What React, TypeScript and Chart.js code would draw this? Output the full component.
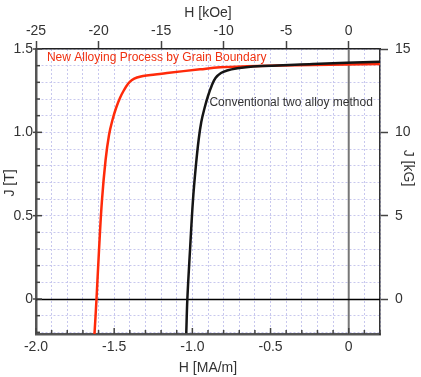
import React, { useEffect, useRef } from 'react';
import { Chart, registerables } from 'chart.js';

Chart.register(...registerables);

// ---- data (H in MA/m, J in T) ----
const newProcessH = [-1.626, -1.613, -1.597, -1.578, -1.555, -1.533, -1.511, -1.488, -1.463, -1.437, -1.412, -1.386, -1.354, -1.315, -1.238, -1.162, -0.951, -0.822, -0.65, -0.229, 0.2];
const newProcessJ = [-0.21, 0, 0.294, 0.594, 0.834, 0.984, 1.074, 1.146, 1.206, 1.254, 1.29, 1.314, 1.329, 1.338, 1.347, 1.356, 1.378, 1.39, 1.396, 1.404, 1.41];
const conventionalH = [-1.039, -1.032, -1.015, -0.996, -0.977, -0.96, -0.943, -0.922, -0.9, -0.877, -0.852, -0.817, -0.778, -0.72, -0.612, -0.229, 0.2];
const conventionalJ = [-0.206, 0, 0.294, 0.594, 0.804, 0.954, 1.062, 1.146, 1.218, 1.278, 1.326, 1.356, 1.371, 1.383, 1.395, 1.41, 1.424];

const seriesNames = ['New Alloying Process by Grain Boundary', 'Conventional two alloy method'];
const xTitle = 'H [MA/m]';
const x2Title = 'H [kOe]';
const yTitle = 'J [T]';
const y2Title = 'J [kG]';

const FONT = '"Liberation Sans", Arial, Helvetica, sans-serif';
const GRID = '#c8c8ee';
const TXT = '#333';

const isMultiple = (v: number, m: number) => Math.abs(v / m - Math.round(v / m)) < 1e-6;
const fmtHalf = (v: number) => (Math.abs(v) < 1e-9 ? '0' : v.toFixed(1));

const overlay = {
  id: 'overlay',
  beforeDatasetsDraw(chart: any) {
    const { ctx, chartArea: a, scales } = chart;
    const x0 = scales.x.getPixelForValue(0);
    const y0 = Math.round(scales.y.getPixelForValue(0)) + 0.5;
    ctx.save();
    ctx.strokeStyle = '#777';
    ctx.lineWidth = 2;
    ctx.beginPath();
    ctx.moveTo(x0, a.top);
    ctx.lineTo(x0, a.bottom);
    ctx.stroke();
    ctx.strokeStyle = '#000';
    ctx.lineWidth = 1.3;
    ctx.beginPath();
    ctx.moveTo(a.left, y0);
    ctx.lineTo(a.right, y0);
    ctx.stroke();
    ctx.restore();
  },
  afterDraw(chart: any) {
    const { ctx, chartArea: a, scales } = chart;
    ctx.save();
    ctx.strokeStyle = '#444';
    ctx.lineWidth = 1.5;
    // left inner ticks
    scales.y.ticks.forEach((t: any) => {
      const py = scales.y.getPixelForValue(t.value);
      const major = isMultiple(t.value, 0.5);
      ctx.beginPath();
      ctx.moveTo(major ? a.left - 3 : a.left, py);
      ctx.lineTo(a.left + (major ? 6 : 4), py);
      ctx.stroke();
    });
    // bottom inner ticks
    scales.x.ticks.forEach((t: any) => {
      const px = scales.x.getPixelForValue(t.value);
      const major = isMultiple(t.value, 0.5);
      ctx.beginPath();
      ctx.moveTo(px, a.bottom);
      ctx.lineTo(px, a.bottom - (major ? 6 : 4));
      ctx.stroke();
    });
    // annotations
    ctx.font = `12px ${FONT}`;
    ctx.textBaseline = 'middle';
    ctx.textAlign = 'left';
    ctx.fillStyle = '#f03010';
    ctx.fillText(seriesNames[0], scales.x.getPixelForValue(-1.93), scales.y.getPixelForValue(1.446));
    ctx.fillStyle = '#333';
    ctx.fillText(seriesNames[1], scales.x.getPixelForValue(-0.891), scales.y.getPixelForValue(1.175));
    // vertical axis titles
    ctx.font = `14px ${FONT}`;
    ctx.fillStyle = TXT;
    ctx.textAlign = 'center';
    ctx.save();
    ctx.translate(10, 183);
    ctx.rotate(-Math.PI / 2);
    ctx.fillText(yTitle, 0, 0);
    ctx.restore();
    ctx.save();
    ctx.translate(408, 168);
    ctx.rotate(Math.PI / 2);
    ctx.fillText(y2Title, 0, 0);
    ctx.restore();
    ctx.restore();
  },
};

export default function App() {
  const ref = useRef<HTMLCanvasElement | null>(null);
  useEffect(() => {
    if (!ref.current) return;
    const font = { family: FONT, size: 14 };
    const chart = new Chart(ref.current, {
      type: 'line',
      data: {
        datasets: [
          {
            label: seriesNames[1],
            data: conventionalH.map((h, i) => ({ x: h, y: conventionalJ[i] })),
            borderColor: '#151515',
            borderWidth: 2.5,
            pointRadius: 0,
            tension: 0.4,
            fill: false,
          },
          {
            label: seriesNames[0],
            data: newProcessH.map((h, i) => ({ x: h, y: newProcessJ[i] })),
            borderColor: '#ff2a0a',
            borderWidth: 2.5,
            pointRadius: 0,
            tension: 0.4,
            fill: false,
          },
        ],
      },
      options: {
        animation: false,
        responsive: false,
        maintainAspectRatio: false,
        layout: { padding: 0 },
        plugins: { legend: { display: false }, tooltip: { enabled: false } },
        scales: {
          x: {
            type: 'linear',
            position: 'bottom',
            min: -2.0,
            max: 0.2,
            afterFit: (s: any) => { s.height = 43; },
            ticks: {
              stepSize: 0.1,
              maxTicksLimit: 100,
              autoSkip: false,
              maxRotation: 0,
              includeBounds: false,
              padding: 5,
              color: TXT,
              font,
              callback: (v: any) => (isMultiple(Number(v), 0.5) ? fmtHalf(Number(v)) : ''),
            },
            grid: { color: GRID, lineWidth: 1, drawTicks: false },
            border: { display: true, color: '#555', width: 2.5, dash: [2, 2] },
            title: { display: true, text: xTitle, color: TXT, font, padding: { top: 0, bottom: 0 } },
          },
          x2: {
            type: 'linear',
            position: 'top',
            min: -25,
            max: 2.5,
            afterFit: (s: any) => { s.height = 49; },
            ticks: {
              stepSize: 5,
              includeBounds: false,
              autoSkip: false,
              maxRotation: 0,
              padding: 1,
              color: TXT,
              font,
              callback: (v: any) => String(v),
            },
            grid: { drawOnChartArea: false, drawTicks: true, tickLength: 8, tickColor: '#444', tickWidth: 1.5 },
            border: { display: true, color: '#222', width: 1.5 },
            title: { display: true, text: x2Title, color: TXT, font, padding: { top: 5, bottom: 0 } },
          },
          y: {
            type: 'linear',
            position: 'left',
            min: -0.21,
            max: 1.5,
            afterFit: (s: any) => { s.width = 36; },
            ticks: {
              stepSize: 0.1,
              maxTicksLimit: 100,
              autoSkip: false,
              includeBounds: false,
              padding: 3,
              color: TXT,
              font,
              callback: (v: any) => (isMultiple(Number(v), 0.5) ? fmtHalf(Number(v)) : ''),
            },
            grid: { color: GRID, lineWidth: 1, drawTicks: false },
            border: { display: true, color: '#555', width: 2.5, dash: [2, 2] },
          },
          y2: {
            type: 'linear',
            position: 'right',
            min: -2.1,
            max: 15,
            afterFit: (s: any) => { s.width = 41; },
            ticks: {
              stepSize: 5,
              includeBounds: false,
              autoSkip: false,
              padding: 7,
              color: TXT,
              font,
              callback: (v: any) => String(v),
            },
            grid: { drawOnChartArea: false, drawTicks: true, tickLength: 8, tickColor: '#444', tickWidth: 1.5 },
            border: { display: true, color: '#333', width: 1.5 },
          },
        },
      },
      plugins: [overlay],
    } as any);
    return () => chart.destroy();
  }, []);
  return (
    <div style={{ position: 'absolute', left: 0, top: 0, width: 421, height: 377, background: '#fff' }}>
      <canvas ref={ref} width={421} height={377} style={{ display: 'block' }} />
    </div>
  );
}
